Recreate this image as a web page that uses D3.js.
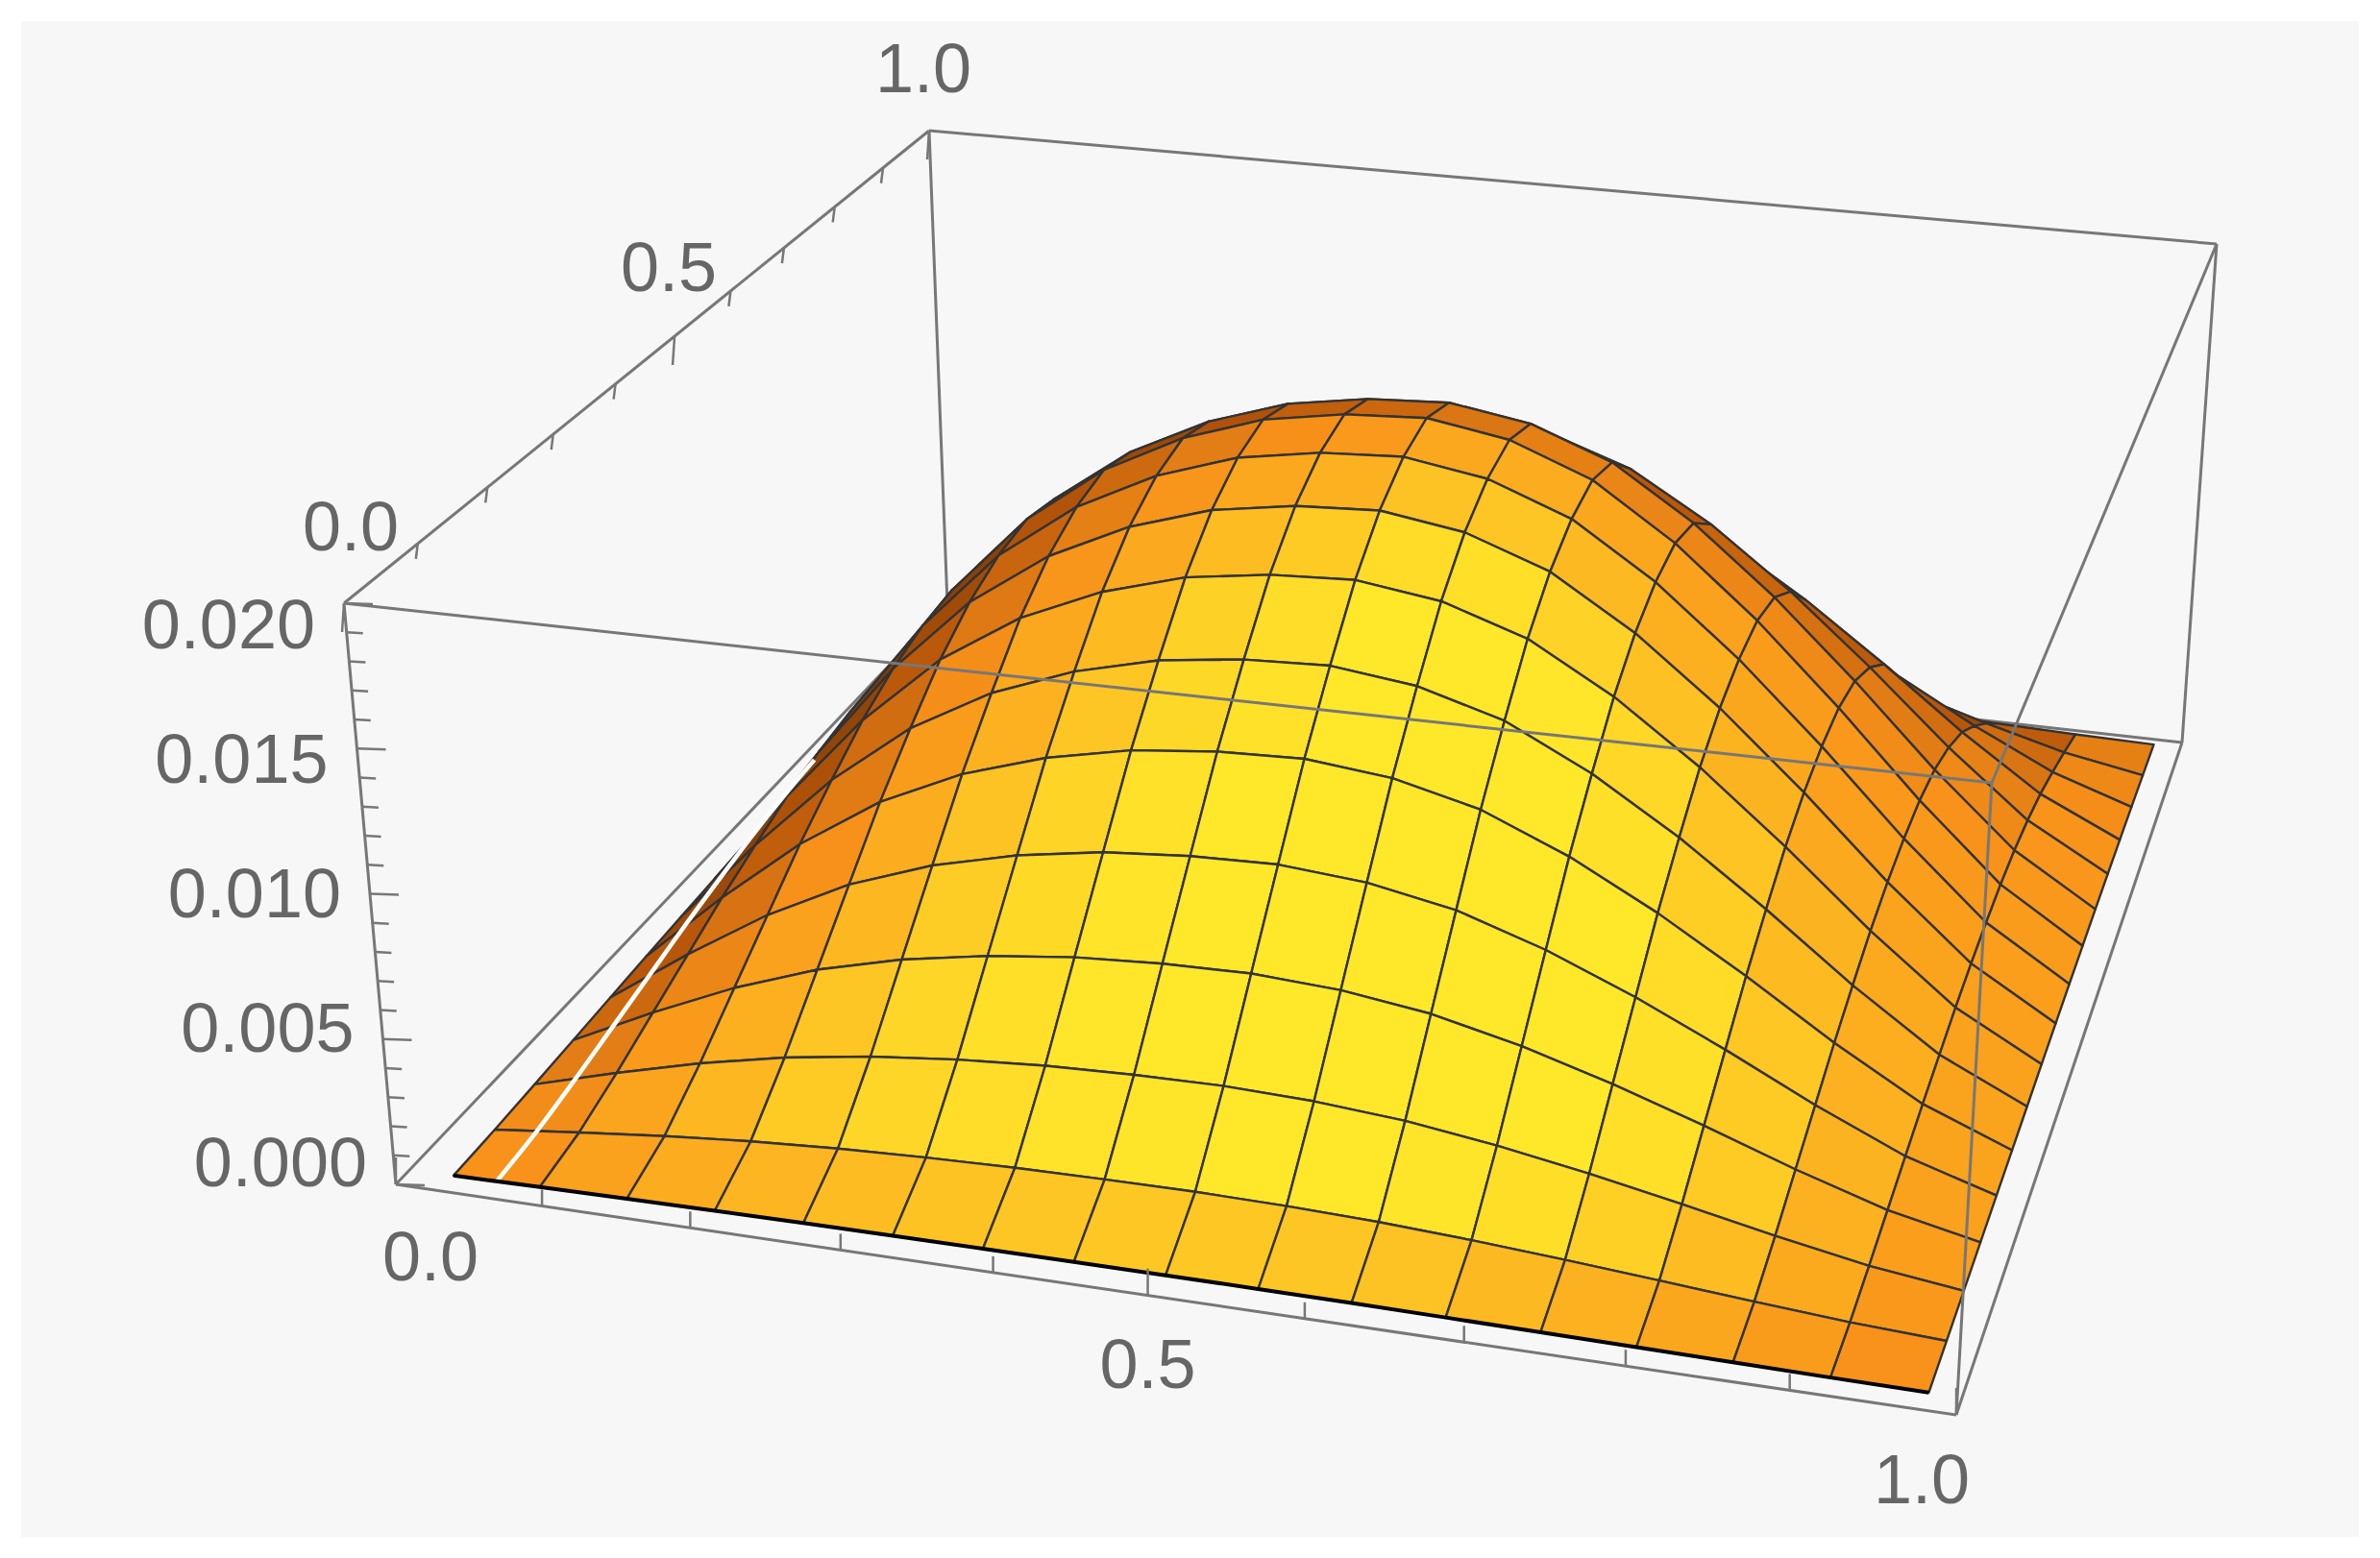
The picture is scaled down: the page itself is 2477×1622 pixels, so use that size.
<!DOCTYPE html>
<html>
<head>
<meta charset="utf-8">
<script src="https://cdn.jsdelivr.net/npm/d3@7"></script>
<style>
  body { margin: 0; background: #ffffff; }
  text { font-family: "Liberation Sans", Arial, sans-serif; fill: #666; }
</style>
</head>
<body>
<div id="chart"></div>
<script>
// sample positions of the surface grid (inside the unit square)
const xGrid = d3.range(17).map(i => 0.03 + i * 0.95 / 16);
const yGrid = d3.range(17).map(i => 0.02 + i * 0.97 / 16);

// relative height profiles
const xProfile = [0.04, 0.28, 0.5, 0.68, 0.81, 0.9, 0.96, 0.99, 1.0, 0.97, 0.9, 0.78, 0.63, 0.46, 0.28, 0.12, 0.01];
const yProfile = [0.01, 0.08, 0.2, 0.34, 0.48, 0.62, 0.74, 0.85, 0.93, 0.98, 1.0, 0.97, 0.88, 0.74, 0.53, 0.29, 0.03];
const zPeak = 0.0172;

const xTicks = d3.range(0, 1.01, 0.1);
const yTicks = d3.range(0, 1.01, 0.1);
const zTicks = d3.range(0, 0.0201, 0.001);
const xLabels = [0, 0.5, 1];
const yLabels = [0, 0.5, 1];
const zLabels = [0, 0.005, 0.01, 0.015, 0.02];

const width = 2477, height = 1622;

const svg = d3.select('#chart').append('svg')
    .attr('width', width)
    .attr('height', height);

svg.append('rect').attr('x', 22).attr('y', 22)
    .attr('width', width - 44).attr('height', height - 44)
    .attr('fill', '#f7f7f7');

// projected corners of the box: key = x y z (0/1)
const C = {
    '000': [412, 1233], '100': [2036, 1473], '010': [986, 629], '110': [2271, 773],
    '001': [358, 628], '101': [2073, 815], '011': [967, 136], '111': [2307, 254]
};

const x = d3.scaleLinear().domain([0, 1]).range([0, 1]);
const y = d3.scaleLinear().domain([0, 1]).range([0, 1]);
const z = d3.scaleLinear().domain([0, 0.02]).range([0, 1]);

// crude perspective: far side shrinks
const warpY = t => t / (t + (1 - t) * 0.77);
const warpX = t => t * 0.93 / (t * 0.93 + (1 - t));

function project(px, py, pz) {
    const a = warpX(x(px)), b = warpY(y(py)), c = z(pz);
    const lerp = (p, q, t) => [p[0] + (q[0] - p[0]) * t, p[1] + (q[1] - p[1]) * t];
    const b0 = lerp(lerp(C['000'], C['100'], a), lerp(C['010'], C['110'], a), b);
    const b1 = lerp(lerp(C['001'], C['101'], a), lerp(C['011'], C['111'], a), b);
    return lerp(b0, b1, c);
}

const line = d3.line();
const box = p => p.map((v, i) => i == 2 ? v * 0.02 : v);
const edge = (p, q) => line([project(...box(p)), project(...box(q))]);

// back edges of the box
const gBack = svg.append('g').attr('stroke', '#777').attr('stroke-width', 3).attr('fill', 'none');
[[[0, 1, 0], [1, 1, 0]], [[0, 1, 1], [1, 1, 1]], [[0, 1, 0], [0, 1, 1]], [[1, 1, 0], [1, 1, 1]], [[0, 0, 0], [0, 1, 0]]]
    .forEach(([p, q]) => gBack.append('path').attr('d', edge(p, q)));

// surface cells
const zAt = (i, j) => zPeak * xProfile[i] * yProfile[j];
const cells = [];
for (let j = 0; j < 16; j++) {
    for (let i = 0; i < 16; i++) {
        const dx = (zAt(i + 1, j) + zAt(i + 1, j + 1) - zAt(i, j) - zAt(i, j + 1)) / 2 / (xGrid[i + 1] - xGrid[i]);
        const dy = (zAt(i, j + 1) + zAt(i + 1, j + 1) - zAt(i, j) - zAt(i + 1, j)) / 2 / (yGrid[j + 1] - yGrid[j]);
        cells.push({ i, j, dx, dy, depth: yGrid[j] + 0.15 * (1 - xGrid[i]) });
    }
}
cells.sort((a, b) => d3.descending(a.depth, b.depth));

const light = [0.3, -0.75, 0.55];
const shade = d3.scaleLinear()
    .domain([-0.05, 0.3, 0.58, 0.76, 0.9])
    .range(['#3d1d04', '#b8560a', '#f8921a', '#fdb821', '#ffe82a'])
    .clamp(true);

function cellColor(d) {
    // normal in box-normalised space (z scaled by box height ~0.45 of width)
    const k = 0.45 / 0.02;
    const n = [-d.dx * k, -d.dy * k, 1];
    const len = Math.hypot(...n);
    const lam = (n[0] * light[0] + n[1] * light[1] + n[2] * light[2]) / len;
    return shade(lam);
}

const cellPts = d => [
    project(xGrid[d.i], yGrid[d.j], zAt(d.i, d.j)),
    project(xGrid[d.i + 1], yGrid[d.j], zAt(d.i + 1, d.j)),
    project(xGrid[d.i + 1], yGrid[d.j + 1], zAt(d.i + 1, d.j + 1)),
    project(xGrid[d.i], yGrid[d.j + 1], zAt(d.i, d.j + 1))
];

svg.append('g').selectAll('path')
    .data(cells)
    .join('path')
    .attr('d', d => line(cellPts(d)) + 'Z')
    .attr('fill', cellColor)
    .attr('stroke', '#333')
    .attr('stroke-width', 2.4)
    .attr('stroke-linejoin', 'round');

// specular highlight running up the steep left face
svg.append('path')
    .attr('d', d3.line().curve(d3.curveCatmullRom)(d3.range(0, 10).map(j =>
        project((xGrid[0] + xGrid[1]) / 2, yGrid[j], (zAt(0, j) + zAt(1, j)) / 2))))
    .attr('stroke', '#fff').attr('stroke-width', 4.5).attr('fill', 'none');

// front boundary of the surface
svg.append('path')
    .attr('d', line(xGrid.map((v, i) => project(v, yGrid[0], zAt(i, 0)))))
    .attr('stroke', '#000').attr('stroke-width', 4).attr('fill', 'none');

// front edges of the box
const gFront = svg.append('g').attr('stroke', '#777').attr('stroke-width', 3).attr('fill', 'none');
[[[0, 0, 0], [1, 0, 0]], [[0, 0, 0], [0, 0, 1]], [[0, 0, 1], [1, 0, 1]], [[1, 0, 0], [1, 0, 1]],
 [[1, 0, 1], [1, 1, 1]], [[1, 0, 0], [1, 1, 0]], [[0, 0, 1], [0, 1, 1]]]
    .forEach(([p, q]) => gFront.append('path').attr('d', edge(p, q)));

// ticks
const gTicks = svg.append('g').attr('stroke', '#777').attr('stroke-width', 2.5);
xTicks.forEach(v => {
    const p = project(v, 0, 0);
    const big = Math.abs(v * 2 - Math.round(v * 2)) < 1e-6;
    gTicks.append('line').attr('x1', p[0]).attr('y1', p[1]).attr('x2', p[0]).attr('y2', p[1] - (big ? 28 : 17));
});
yTicks.forEach(v => {
    const p = project(0, v, 0.02);
    const big = Math.abs(v * 2 - Math.round(v * 2)) < 1e-6;
    gTicks.append('line').attr('x1', p[0]).attr('y1', p[1]).attr('x2', p[0] - 2).attr('y2', p[1] + (big ? 30 : 16));
});
zTicks.forEach(v => {
    const p = project(0, 0, v);
    const big = Math.round(v * 1000) % 5 === 0;
    gTicks.append('line').attr('x1', p[0]).attr('y1', p[1]).attr('x2', p[0] + (big ? 30 : 17)).attr('y2', p[1] + 1);
});

// labels
const fmt1 = d3.format('.1f'), fmt3 = d3.format('.3f');
const gLab = svg.append('g').attr('font-size', 72);
xLabels.forEach(v => {
    const p = project(v, 0, 0);
    gLab.append('text').attr('x', p[0] + 36 - 72 * v).attr('y', p[1] + 75 - 8 * v)
        .attr('text-anchor', 'middle').attr('dominant-baseline', 'central').text(fmt1(v));
});
yLabels.forEach(v => {
    const p = project(0, v, 0.02);
    gLab.append('text').attr('x', p[0] + 7 - 13 * Math.min(1, v * 2)).attr('y', p[1] - 80 + 15 * v)
        .attr('text-anchor', 'middle').attr('dominant-baseline', 'central').text(fmt1(v));
});
zLabels.forEach(v => {
    const p = project(0, 0, v);
    const t = v / 0.02;
    gLab.append('text').attr('x', p[0] - 30).attr('y', p[1] - 23 + 45 * t)
        .attr('text-anchor', 'end').attr('dominant-baseline', 'central').text(fmt3(v));
});
</script>
</body>
</html>
